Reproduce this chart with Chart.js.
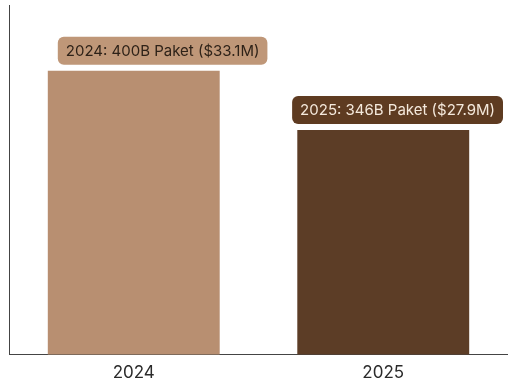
<!DOCTYPE html>
<html>
<head>
<meta charset="utf-8">
<script src="https://cdn.jsdelivr.net/npm/chart.js@4"></script>
<style>
    html, body { margin: 0; padding: 0; background: #fff; }
    #wrap { width: 508px; height: 385px; }
</style>
</head>
<body>
<div id="wrap"><canvas id="chart"></canvas></div>
<script>
// Дані
const years = ['2024', '2025'];
const pakets = [400, 346];
const labelsText = ['2024: 400B Paket ($33.1M)', '2025: 346B Paket ($27.9M)'];
const barColors = ['#b88f71', '#5c3d26'];
const boxColors = ['#bf9778', '#5e3b21'];
const boxTextColors = ['#2e2218', '#f5e9dc'];

// Плагін для підписів у рамках
const boxLabels = {
    id: 'boxLabels',
    afterDatasetsDraw(chart) {
        const ctx = chart.ctx;
        const meta = chart.getDatasetMeta(0);
        ctx.save();
        ctx.font = '15px Inter, "Noto Sans", sans-serif';
        ctx.textBaseline = 'middle';
        meta.data.forEach((bar, i) => {
            const text = labelsText[i];
            const w = ctx.measureText(text).width + 16;
            const h = 28;
            let x = bar.x - bar.width / 2 + 10;
            if (x + w > chart.width - 5) x = chart.width - 5 - w;
            const y = bar.y - 6 - h;
            ctx.fillStyle = boxColors[i];
            ctx.beginPath();
            ctx.roundRect(x, y, w, h, 6);
            ctx.fill();
            ctx.fillStyle = boxTextColors[i];
            ctx.textAlign = 'center';
            ctx.fillText(text, x + w / 2, y + h / 2 + 1);
        });
        ctx.restore();
    }
};

new Chart(document.getElementById('chart'), {
    type: 'bar',
    data: {
        labels: years,
        datasets: [{
            data: pakets,
            backgroundColor: barColors,
            barPercentage: 0.689,
            categoryPercentage: 1
        }]
    },
    options: {
        responsive: true,
        maintainAspectRatio: false,
        animation: false,
        layout: { padding: { left: 9, top: 5, right: -3, bottom: -6 } },
        plugins: {
            legend: { display: false },
            tooltip: { enabled: false }
        },
        scales: {
            x: {
                grid: { display: false, drawTicks: false },
                border: { color: '#444', width: 1 },
                ticks: {
                    color: '#2b2b2b',
                    padding: 8,
                    font: { family: 'Inter, "Noto Sans", sans-serif', size: 17 }
                }
            },
            y: {
                min: 141,
                max: 460,
                grid: { display: false, drawTicks: false },
                border: { color: '#444', width: 1 },
                ticks: { display: false }
            }
        }
    },
    plugins: [boxLabels]
});
</script>
</body>
</html>
